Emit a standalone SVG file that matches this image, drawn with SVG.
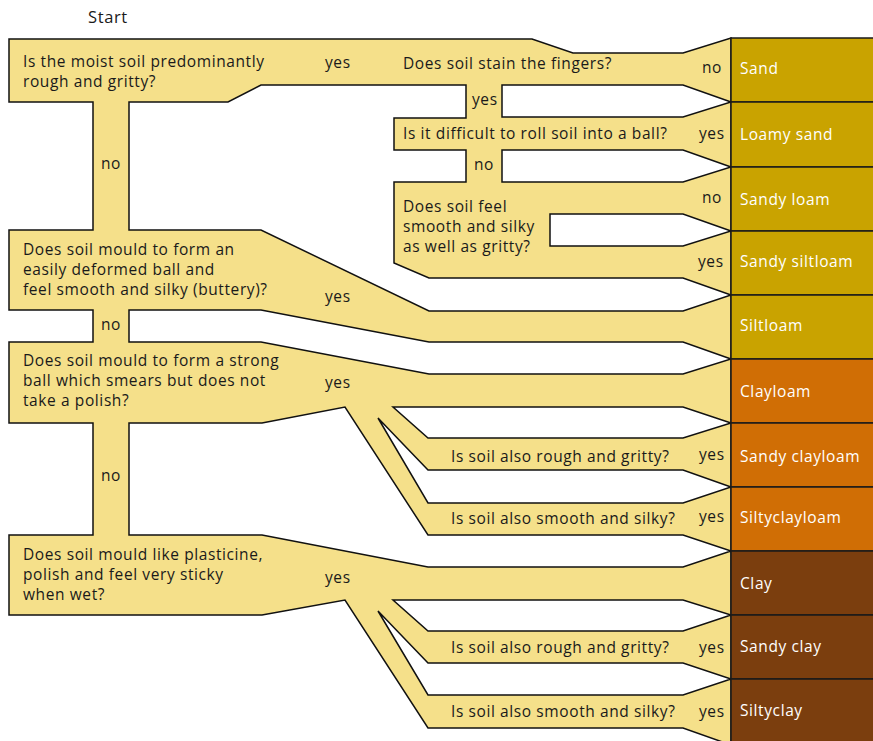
<svg xmlns="http://www.w3.org/2000/svg" width="873" height="741" viewBox="0 0 873 741">
<style>
  .flow { fill: #F5E08A; stroke: #111; stroke-width: 1.5; stroke-linejoin: miter; fill-rule: evenodd; }
  .t { font-family: "Open Sans", "Noto Sans", sans-serif; font-size: 15.5px; letter-spacing: 0.6px; fill: #1a1a1a; }
  .w { font-family: "Open Sans", "Noto Sans", sans-serif; font-size: 15.5px; letter-spacing: 0.6px; fill: #ffffff; }
  .box { stroke: #1a1a1a; stroke-width: 1.5; }
  .sand { fill: #C9A300; }
  .loam { fill: #D06E05; }
  .clay { fill: #7B3E0E; }
</style>
<rect width="873" height="741" fill="#ffffff"/>
<g id="connectors">
  <path class="flow" d="M9,39 L532,39 L573,53 L683,53 L731,38 L731,745 L683,728 L428,728 L345,600 L262,615 L9,615 L9,535 L93,535 L93,423 L9,423 L9,342 L93,342 L93,310 L9,310 L9,230 L93,230 L93,102 L9,102 Z
  M502,85 L683,85 L731,102 L683,117 L502,117 Z
  M502,150 L683,150 L731,167 L683,182 L502,182 Z
  M550,214 L683,214 L731,231 L683,246 L550,246 Z
  M129,102 L228,102 L261,85 L466,85 L466,118 L394,118 L394,150 L466,150 L466,182 L394,182 L394,263 L429,278 L683,278 L731,295 L683,311 L429,311 L261,230 L129,230 Z
  M129,310 L261,310 L429,342 L683,342 L731,359 L683,374 L429,374 L261,342 L129,342 Z
  M129,423 L262,423 L345,407 L428,535 L683,535 L731,551 L683,567 L428,567 L262,535 L129,535 Z
  M393,407 L683,407 L731,423 L683,438 L428,438 Z
  M378,418 L428,470 L683,470 L731,487 L683,503 L428,503 Z
  M393,600 L683,600 L731,615 L683,631 L428,631 Z
  M378,611 L428,663 L683,663 L731,679 L683,695 L428,695 Z"/>
  <text class="t" x="325" y="68">yes</text>
  <text class="t" x="702" y="73">no</text>
  <text class="t" x="472" y="105">yes</text>
  <text class="t" x="699" y="139">yes</text>
  <text class="t" x="474" y="170">no</text>
  <text class="t" x="702" y="203">no</text>
  <text class="t" x="698" y="267">yes</text>
  <text class="t" x="101" y="169">no</text>
  <text class="t" x="325" y="302">yes</text>
  <text class="t" x="101" y="330">no</text>
  <text class="t" x="325" y="388">yes</text>
  <text class="t" x="101" y="481">no</text>
  <text class="t" x="699" y="460">yes</text>
  <text class="t" x="699" y="522">yes</text>
  <text class="t" x="325" y="583">yes</text>
  <text class="t" x="699" y="653">yes</text>
  <text class="t" x="699" y="717">yes</text>
</g>
<g id="start"><text class="t" x="88" y="23" style="font-size:16.5px">Start</text></g>
<g id="q1"><text class="t" x="23" y="67">Is the moist soil predominantly</text><text class="t" x="23" y="87">rough and gritty?</text></g>
<g id="q2"><text class="t" x="403" y="69">Does soil stain the fingers?</text></g>
<g id="q3"><text class="t" x="403" y="139">Is it difficult to roll soil into a ball?</text></g>
<g id="q4"><text class="t" x="403" y="212">Does soil feel</text><text class="t" x="403" y="232">smooth and silky</text><text class="t" x="403" y="252">as well as gritty?</text></g>
<g id="q5"><text class="t" x="23" y="255">Does soil mould to form an</text><text class="t" x="23" y="275">easily deformed ball and</text><text class="t" x="23" y="295">feel smooth and silky (buttery)?</text></g>
<g id="q6"><text class="t" x="23" y="366">Does soil mould to form a strong</text><text class="t" x="23" y="386">ball which smears but does not</text><text class="t" x="23" y="406">take a polish?</text></g>
<g id="q6a"><text class="t" x="451" y="462">Is soil also rough and gritty?</text></g>
<g id="q6b"><text class="t" x="451" y="524">Is soil also smooth and silky?</text></g>
<g id="q7"><text class="t" x="23" y="560">Does soil mould like plasticine,</text><text class="t" x="23" y="580">polish and feel very sticky</text><text class="t" x="23" y="600">when wet?</text></g>
<g id="q7a"><text class="t" x="451" y="653">Is soil also rough and gritty?</text></g>
<g id="q7b"><text class="t" x="451" y="717">Is soil also smooth and silky?</text></g>
<g id="r-sand"><rect class="box sand" x="731" y="38" width="145" height="64"/><text class="w" x="740" y="74">Sand</text></g>
<g id="r-loamysand"><rect class="box sand" x="731" y="102" width="145" height="65"/><text class="w" x="740" y="140">Loamy sand</text></g>
<g id="r-sandyloam"><rect class="box sand" x="731" y="167" width="145" height="64"/><text class="w" x="740" y="205">Sandy loam</text></g>
<g id="r-sandysiltloam"><rect class="box sand" x="731" y="231" width="145" height="64"/><text class="w" x="740" y="267">Sandy siltloam</text></g>
<g id="r-siltloam"><rect class="box sand" x="731" y="295" width="145" height="64"/><text class="w" x="740" y="331">Siltloam</text></g>
<g id="r-clayloam"><rect class="box loam" x="731" y="359" width="145" height="64"/><text class="w" x="740" y="397">Clayloam</text></g>
<g id="r-sandyclayloam"><rect class="box loam" x="731" y="423" width="145" height="64"/><text class="w" x="740" y="462">Sandy clayloam</text></g>
<g id="r-siltyclayloam"><rect class="box loam" x="731" y="487" width="145" height="64"/><text class="w" x="740" y="523">Siltyclayloam</text></g>
<g id="r-clay"><rect class="box clay" x="731" y="551" width="145" height="64"/><text class="w" x="740" y="589">Clay</text></g>
<g id="r-sandyclay"><rect class="box clay" x="731" y="615" width="145" height="64"/><text class="w" x="740" y="652">Sandy clay</text></g>
<g id="r-siltyclay"><rect class="box clay" x="731" y="679" width="145" height="70"/><text class="w" x="740" y="716">Siltyclay</text></g>
</svg>
